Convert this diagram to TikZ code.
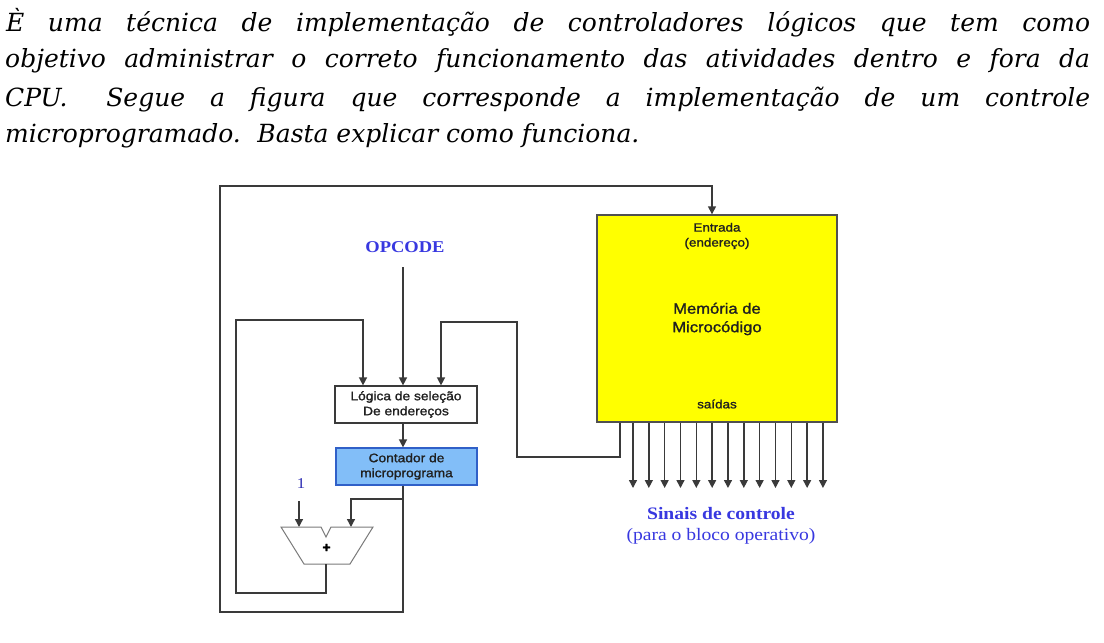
\documentclass[tikz,border=0pt]{standalone}
\usepackage{fontspec}
\usepackage{graphicx}
\usetikzlibrary{arrows.meta}
\newfontfamily\handf{DejaVu Serif}
\newfontfamily\arialf[FakeBold=1.3]{Liberation Sans}
\newfontfamily\timesf{Liberation Serif}
\newcommand{\wx}[1]{\scalebox{1.12}[1]{#1}}
\definecolor{linec}{HTML}{3A3A3A}
\definecolor{memfill}{HTML}{FFFF00}
\definecolor{memdraw}{HTML}{505050}
\definecolor{cntfill}{HTML}{82BEF8}
\definecolor{cntdraw}{HTML}{3060C8}
\definecolor{bluet}{HTML}{3838E0}
\definecolor{addc}{HTML}{7A7A7A}
\definecolor{boxt}{HTML}{202020}
\begin{document}
\begin{tikzpicture}[x=1pt,y=-1pt,
  wire/.style={draw=linec, line width=1.4pt},
  arr/.style={wire, -{Triangle[length=8pt,width=8pt]}},
  para/.style={anchor=base west, inner sep=0pt, font=\handf\itshape\fontsize{25}{29}\selectfont},
  boxtext/.style={inner sep=0pt, align=center, text=boxt, font=\arialf\fontsize{12.3}{15}\selectfont},
  logic/.style={draw=linec, line width=1.2pt, fill=white, minimum width=142pt, minimum height=37pt, inner sep=0pt},
  cntbox/.style={draw=cntdraw, line width=1.2pt, fill=cntfill, minimum width=141pt, minimum height=37pt, inner sep=0pt},
  membox/.style={draw=memdraw, line width=1.4pt, fill=memfill, minimum width=240pt, minimum height=207pt, inner sep=0pt},
  bluelabel/.style={inner sep=0pt, align=center, text=bluet}
]
\useasboundingbox (0,0) rectangle (1104,643);
\fill[white] (0,0) rectangle (1104,643);

% paragraph
\node[para] (l1) at (6,31) {\makebox[1084pt][s]{È uma técnica de implementação de controladores lógicos que tem como}};
\node[para] (l2) at (5,67) {\makebox[1085pt][s]{objetivo administrar o correto funcionamento das atividades dentro e fora da}};
\node[para] (l3) at (5,106) {\makebox[1085pt][s]{CPU.\hspace{14pt} Segue a figura que corresponde a implementação de um controle}};
\node[para] (l4) at (5,142) {microprogramado.\hspace{6pt} Basta explicar como funciona.};

% boxes
\node[membox] (mem) at (717,318.5) {};
\node[boxtext, font=\arialf\fontsize{12}{15}\selectfont] (ent) at (717,236) {\wx{Entrada}\\\wx{(endereço)}};
\node[boxtext, font=\arialf\fontsize{14.8}{18.5}\selectfont] (mmc) at (717,319) {\wx{Memória de}\\\wx{Microcódigo}};
\node[boxtext, font=\arialf\fontsize{12}{15}\selectfont] (sai) at (717,404) {\wx{saídas}};

\node[logic] (log) at (406,404.5) {};
\node[boxtext] (logt) at (log.center) {\wx{Lógica de seleção}\\\wx{De endereços}};

\node[cntbox] (cnt) at (406.5,466.5) {};
\node[boxtext] (cntt) at (cnt.center) {\wx{Contador de}\\\wx{microprograma}};

% labels
\node[bluelabel, font=\timesf\bfseries\fontsize{16.5}{19}\selectfont] (op) at (405,247) {\wx{OPCODE}};
\node[bluelabel, font=\timesf\fontsize{15}{16}\selectfont, text=bluet!80!black] (one) at (301,484) {\wx{1}};
\node[bluelabel, font=\timesf\fontsize{17.5}{21.5}\selectfont] (sin) at (721,526) {\wx{\bfseries Sinais de controle}\\\wx{(para o bloco operativo)}};

% adder
\draw[addc, line width=1pt, fill=white] (281,527) -- (321,527) -- (326,537) -- (331,527) -- (373,527) -- (350,564) -- (304,564) -- cycle;
\node[inner sep=0pt, font=\arialf\bfseries\fontsize{14}{14}\selectfont] (plus) at (326.5,548) {+};
\coordinate (addL) at (299,527);
\coordinate (addR) at (351,527);
\coordinate (addout) at (326,564);

% outer loop: counter -> memory input
\coordinate (o1) at (403,612);
\coordinate (o2) at (220,612);
\coordinate (o3) at (220,186);
\coordinate (o4) at (712,186);
\draw[arr] (cnt.south -| o1) -- (o1) -- (o2) -- (o3) -- (o4) -- (o4 |- mem.north);

% counter -> adder
\coordinate (b1) at (403,499);
\coordinate (b2) at (351,499);
\draw[arr] (b1) -- (b2) -- (addR);

% 1 -> adder
\coordinate (onet) at (299,501);
\draw[arr] (onet) -- (addL);

% adder -> logic
\coordinate (a1) at (326,593);
\coordinate (a2) at (236,593);
\coordinate (a3) at (236,320);
\coordinate (a4) at (363,320);
\draw[arr] (addout) -- (a1) -- (a2) -- (a3) -- (a4) -- (a4 |- log.north);

% opcode -> logic
\coordinate (opcs) at (403,267);
\draw[arr] (opcs) -- (opcs |- log.north);

% memory -> logic feedback
\coordinate (f0) at (620,457);
\coordinate (f1) at (517,457);
\coordinate (f2) at (517,322);
\coordinate (f3) at (441,322);
\draw[arr] (mem.south -| f0) -- (f0) -- (f1) -- (f2) -- (f3) -- (f3 |- log.north);

% logic -> counter
\draw[arr] (log.south -| o1) -- (cnt.north -| o1);

% outputs
\foreach \i in {0,...,12}{
  \pgfmathsetmacro\xx{633+15.83*\i}
  \coordinate (out\i) at (\xx,488);
  \draw[arr] (mem.south -| out\i) -- (out\i);
}
\end{tikzpicture}
\end{document}
